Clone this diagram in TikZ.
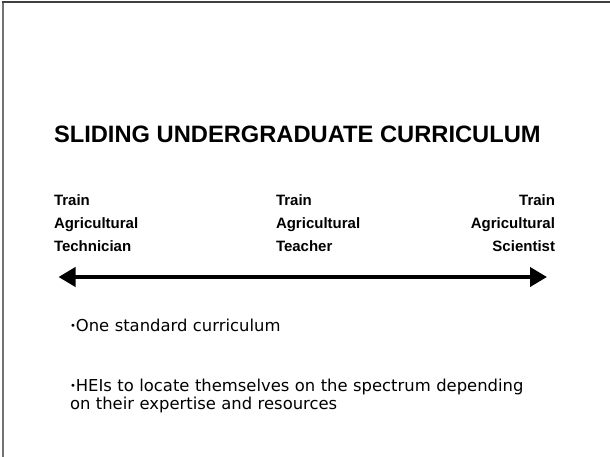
\documentclass[tikz,border=0pt]{standalone}
\usepackage{fontspec}
\setmainfont{Liberation Sans}
\newfontfamily\bodyfont{DejaVu Sans}
\usetikzlibrary{arrows.meta}
\newcommand{\dotmark}{{\fontsize{10}{10}\selectfont\raisebox{1.8pt}{•}}}

\begin{document}
\begin{tikzpicture}[x = 1pt, y = -1pt,
    every node/.style = { inner sep = 0, outer sep = 0 },
    heading/.style = { anchor = base west, font = \fontsize{23.7}{28}\selectfont\bfseries },
    goal/.style = { text width = 110pt, font = \fontsize{15}{22.6}\selectfont\bfseries },
    point/.style = { anchor = base west, align = left, text width = 500pt,
      font = \bodyfont\fontsize{16.4}{18}\selectfont },
    spectrum/.style = { line width = 4pt,
      {Triangle[length = 17pt, width = 19pt]}-{Triangle[length = 17pt, width = 19pt]} }]
  \useasboundingbox (0,0) rectangle (610,457);
  % slide frame
  \draw[gray!90!black, line width = 2pt] (2.5,457) -- (2.5,2);
  \draw[black!75, line width = 1.5pt] (1.5,2.2) -- (610,2.2);

  \node[heading] (title) at (54,143) { SLIDING UNDERGRADUATE CURRICULUM };

  \node[goal, anchor = base west, align = left] (technician) at (54,206)
    { Train \\ Agricultural \\ Technician };
  \node[goal, anchor = base west, align = left] (teacher) at (276,206)
    { Train \\ Agricultural \\ Teacher };
  \node[goal, anchor = base east, align = right] (scientist) at (555,206)
    { Train \\ Agricultural \\ Scientist };

  \coordinate (low) at (58.5,277);
  \coordinate (high) at (547,277);
  \draw[spectrum] (low) -- (high);

  \node[point] (standard) at (70,331) { \dotmark One standard curriculum };
  \node[point] (locate) at (70,391)
    { \dotmark HEIs to locate themselves on the spectrum depending \\ on their expertise and resources };
\end{tikzpicture}
\end{document}
